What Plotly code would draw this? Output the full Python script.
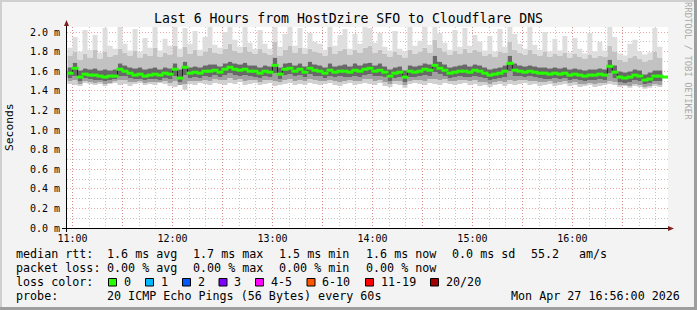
import pandas as pd
import plotly.graph_objects as go

# ---------------- data (ms) ----------------
start_time = "2026-04-27 10:57"
step_minutes = 3

median = [1.58,1.63,1.54,1.57,1.56,1.56,1.55,1.54,1.55,1.55,
          1.62,1.60,1.58,1.56,1.57,1.55,1.56,1.57,1.56,1.58,
          1.57,1.62,1.53,1.64,1.58,1.59,1.58,1.60,1.60,1.61,
          1.59,1.62,1.64,1.62,1.61,1.62,1.60,1.60,1.58,1.60,
          1.59,1.66,1.57,1.62,1.63,1.60,1.62,1.59,1.63,1.61,
          1.60,1.58,1.61,1.59,1.60,1.60,1.59,1.61,1.60,1.62,
          1.63,1.60,1.61,1.59,1.55,1.58,1.59,1.54,1.60,1.59,
          1.60,1.62,1.61,1.66,1.63,1.61,1.58,1.59,1.60,1.60,
          1.59,1.61,1.60,1.58,1.56,1.57,1.58,1.60,1.68,1.61,
          1.60,1.59,1.60,1.59,1.58,1.58,1.57,1.58,1.57,1.58,
          1.56,1.57,1.56,1.55,1.56,1.56,1.57,1.56,1.65,1.59,
          1.54,1.53,1.54,1.56,1.55,1.51,1.52,1.55,1.55,1.54]

ping_min = [1.47,1.46,1.45,1.48,1.47,1.46,1.47,1.45,1.47,1.48,
            1.46,1.47,1.45,1.47,1.48,1.46,1.47,1.46,1.48,1.47,
            1.45,1.44,1.46,1.41,1.47,1.46,1.48,1.47,1.46,1.48,
            1.47,1.46,1.48,1.47,1.49,1.46,1.47,1.48,1.46,1.47,
            1.48,1.45,1.46,1.47,1.48,1.46,1.47,1.46,1.48,1.47,
            1.46,1.47,1.48,1.46,1.45,1.47,1.48,1.46,1.47,1.48,
            1.47,1.46,1.48,1.45,1.44,1.47,1.46,1.43,1.47,1.48,
            1.47,1.46,1.48,1.47,1.46,1.48,1.47,1.46,1.47,1.48,
            1.46,1.47,1.45,1.46,1.44,1.46,1.47,1.45,1.47,1.46,
            1.47,1.48,1.46,1.47,1.45,1.46,1.47,1.45,1.46,1.47,
            1.45,1.46,1.44,1.45,1.46,1.44,1.45,1.46,1.47,1.46,
            1.44,1.45,1.43,1.45,1.44,1.42,1.43,1.45,1.44,1.46]

ping_lo2 = [1.50,1.51,1.47,1.50,1.49,1.48,1.49,1.47,1.48,1.50,
            1.51,1.51,1.49,1.49,1.50,1.48,1.49,1.49,1.49,1.50,
            1.48,1.50,1.46,1.47,1.50,1.50,1.50,1.51,1.50,1.52,
            1.51,1.51,1.53,1.51,1.52,1.50,1.51,1.51,1.49,1.51,
            1.51,1.50,1.49,1.51,1.52,1.50,1.51,1.50,1.52,1.51,
            1.50,1.50,1.51,1.50,1.49,1.50,1.51,1.50,1.50,1.52,
            1.52,1.50,1.51,1.49,1.47,1.50,1.50,1.46,1.50,1.51,
            1.51,1.50,1.52,1.52,1.51,1.52,1.50,1.50,1.51,1.51,
            1.50,1.51,1.49,1.49,1.47,1.49,1.50,1.49,1.51,1.50,
            1.51,1.51,1.50,1.50,1.49,1.49,1.50,1.48,1.49,1.50,
            1.48,1.49,1.47,1.47,1.48,1.47,1.48,1.48,1.50,1.49,
            1.46,1.46,1.45,1.47,1.46,1.44,1.45,1.47,1.46,1.47]

ping_lo1 = [1.53,1.55,1.50,1.53,1.52,1.51,1.51,1.50,1.51,1.52,
            1.55,1.55,1.53,1.52,1.52,1.51,1.52,1.52,1.51,1.53,
            1.52,1.55,1.49,1.56,1.53,1.54,1.53,1.55,1.54,1.56,
            1.54,1.56,1.58,1.56,1.55,1.56,1.55,1.54,1.53,1.55,
            1.54,1.58,1.52,1.56,1.57,1.55,1.56,1.54,1.57,1.55,
            1.55,1.53,1.55,1.54,1.55,1.54,1.54,1.55,1.54,1.56,
            1.57,1.55,1.55,1.54,1.50,1.53,1.54,1.49,1.54,1.54,
            1.55,1.56,1.55,1.59,1.57,1.55,1.53,1.54,1.55,1.54,
            1.54,1.55,1.54,1.53,1.51,1.52,1.53,1.54,1.60,1.55,
            1.55,1.54,1.55,1.54,1.53,1.52,1.52,1.53,1.52,1.53,
            1.51,1.52,1.51,1.50,1.51,1.51,1.52,1.51,1.58,1.53,
            1.49,1.48,1.49,1.51,1.50,1.47,1.48,1.50,1.50,1.49]

ping_hi1 = [1.64,1.69,1.61,1.63,1.62,1.63,1.61,1.62,1.61,1.62,
            1.68,1.66,1.64,1.63,1.64,1.62,1.63,1.64,1.62,1.64,
            1.63,1.68,1.62,1.70,1.64,1.65,1.64,1.66,1.67,1.67,
            1.65,1.68,1.70,1.68,1.67,1.69,1.66,1.66,1.64,1.66,
            1.65,1.74,1.64,1.68,1.69,1.66,1.68,1.65,1.70,1.67,
            1.66,1.64,1.68,1.65,1.66,1.67,1.65,1.68,1.66,1.68,
            1.69,1.66,1.68,1.65,1.62,1.64,1.65,1.61,1.66,1.65,
            1.66,1.68,1.67,1.76,1.70,1.67,1.64,1.65,1.66,1.67,
            1.65,1.67,1.66,1.64,1.62,1.63,1.64,1.66,1.76,1.68,
            1.66,1.65,1.66,1.65,1.64,1.64,1.63,1.64,1.63,1.64,
            1.62,1.63,1.62,1.61,1.62,1.62,1.63,1.62,1.72,1.66,
            1.60,1.59,1.60,1.62,1.61,1.57,1.59,1.61,1.61,1.60]

ping_hi2 = [1.76,1.80,1.72,1.78,1.74,1.82,1.73,1.80,1.75,1.77,
            1.83,1.79,1.76,1.81,1.74,1.78,1.76,1.84,1.75,1.79,
            1.77,1.86,1.75,1.85,1.78,1.82,1.76,1.80,1.84,1.79,
            1.78,1.83,1.88,1.81,1.79,1.85,1.80,1.78,1.83,1.79,
            1.77,1.90,1.76,1.82,1.86,1.79,1.84,1.78,1.83,1.80,
            1.79,1.76,1.85,1.78,1.81,1.83,1.77,1.82,1.79,1.84,
            1.86,1.79,1.82,1.78,1.75,1.80,1.77,1.74,1.82,1.78,
            1.80,1.84,1.79,1.92,1.84,1.80,1.77,1.81,1.78,1.83,
            1.79,1.82,1.80,1.76,1.78,1.75,1.80,1.79,1.90,1.82,
            1.79,1.77,1.82,1.78,1.76,1.80,1.75,1.78,1.76,1.79,
            1.74,1.78,1.75,1.73,1.77,1.74,1.76,1.75,1.86,1.80,
            1.72,1.70,1.74,1.76,1.73,1.70,1.72,1.80,1.74,1.72]

ping_max = [1.84,1.95,1.80,2.02,1.82,1.97,1.79,2.04,1.86,1.83,
            2.05,1.88,1.81,2.03,1.80,1.94,1.84,2.05,1.81,1.93,
            1.86,2.05,1.83,2.04,1.88,2.01,1.82,1.95,2.05,1.87,
            1.84,2.00,2.05,1.92,1.85,2.05,1.89,1.83,2.02,1.88,
            1.83,2.05,1.85,1.98,2.05,1.86,2.04,1.84,1.99,1.90,
            1.88,1.82,2.05,1.86,1.97,2.03,1.83,1.98,1.88,2.05,
            2.04,1.89,1.99,1.85,1.81,2.01,1.83,1.80,2.05,1.86,
            1.91,2.05,1.87,2.05,1.99,1.89,1.82,2.02,1.85,2.04,
            1.86,1.97,1.90,1.81,1.96,1.80,2.03,1.85,2.05,1.98,
            1.88,1.83,2.05,1.87,1.82,2.00,1.80,1.93,1.81,1.96,
            1.79,1.94,1.83,1.78,1.99,1.80,1.90,1.81,2.05,1.95,
            1.78,1.76,1.88,1.92,1.80,1.77,1.79,2.04,1.85,1.78]

x_tick_vals = ["2026-04-27 11:00", "2026-04-27 11:30", "2026-04-27 12:00", "2026-04-27 12:30",
               "2026-04-27 13:00", "2026-04-27 13:30", "2026-04-27 14:00", "2026-04-27 14:30",
               "2026-04-27 15:00", "2026-04-27 15:30", "2026-04-27 16:00", "2026-04-27 16:30"]
x_tick_text = ["11:00", "", "12:00", "", "13:00", "", "14:00", "", "15:00", "", "16:00", ""]

title_text = "Last 6 Hours from HostDzire SFO to Cloudflare DNS"
loss_labels = ["0", "1", "2", "3", "4-5", "6-10", "11-19", "20/20"]
loss_colors = ["#26ff00", "#00b8ff", "#0059ff", "#7e00ff", "#ff00ff", "#ff5500", "#ff0000", "#a10000"]

# ---------------- geometry ----------------
W, H = 697, 310
L, R, T, B = 67, 29, 27, 82
PW, PH = W - L - R, H - T - B
FONT = "DejaVu Sans Mono"


def fx(px):
    return (px - L) / PW


def fy(py):
    return (H - B - py) / PH


times = pd.date_range(start_time, periods=len(median), freq=f"{step_minutes}min")
mid_times = times + pd.Timedelta(seconds=step_minutes * 30)

fig = go.Figure()

layers = [
    (ping_min, None),
    (ping_lo2, "#d0d0d0"),
    (ping_lo1, "#a0a0a0"),
    (ping_hi1, "#686868"),
    (ping_hi2, "#c2c2c2"),
    (ping_max, "#dedede"),
]
for vals, col in layers:
    fig.add_trace(go.Scatter(
        x=times, y=vals, mode="lines", line=dict(width=0, shape="hv"),
        fill=None if col is None else "tonexty", fillcolor=col,
        hoverinfo="skip", showlegend=False))

fig.add_trace(go.Scatter(
    x=times, y=median, mode="lines", line=dict(width=1, color="#202020", shape="hv"),
    hoverinfo="skip", showlegend=False))
fig.add_trace(go.Scatter(
    x=mid_times, y=median, mode="markers",
    marker=dict(symbol="line-ew", size=5, line=dict(width=3, color=loss_colors[0])),
    hoverinfo="skip", showlegend=False))

grid_major = "rgba(222,80,80,0.5)"
grid_minor = "rgba(143,143,143,0.5)"

fig.update_layout(
    width=W, height=H,
    margin=dict(l=L, r=R, t=T, b=B, pad=0),
    paper_bgcolor="#f3f3f3", plot_bgcolor="#ffffff",
    font=dict(family=FONT, size=10, color="#000000"),
    xaxis=dict(
        type="date",
        range=["2026-04-27 10:56:40", "2026-04-27 16:57:24"],
        tickmode="array", tickvals=x_tick_vals, ticktext=x_tick_text,
        showgrid=True, gridcolor=grid_major, griddash="1px,2px", gridwidth=1,
        minor=dict(tickmode="linear", tick0="2026-04-27 11:00", dtick=600000,
                   showgrid=True, gridcolor=grid_minor, griddash="1px,2px", gridwidth=1),
        ticks="", ticklabelstandoff=3, zeroline=False, showline=False,
        tickfont=dict(family=FONT, size=10),
    ),
    yaxis=dict(
        range=[0, 2.051],
        tickmode="linear", tick0=0, dtick=0.2, tickformat=".1f", ticksuffix=" m",
        showgrid=True, gridcolor=grid_major, griddash="1px,2px", gridwidth=1,
        minor=dict(tickmode="linear", tick0=0, dtick=0.1,
                   showgrid=True, gridcolor=grid_minor, griddash="1px,2px", gridwidth=1),
        ticks="", ticklabelstandoff=6, zeroline=False, showline=False,
        tickfont=dict(family=FONT, size=10),
    ),
)

shapes = []
# frame shading
shapes.append(dict(type="line", xref="paper", yref="paper", x0=fx(0), x1=fx(W), y0=fy(1), y1=fy(1),
                   line=dict(color="#cfcfcf", width=2)))
shapes.append(dict(type="line", xref="paper", yref="paper", x0=fx(1), x1=fx(1), y0=fy(0), y1=fy(H),
                   line=dict(color="#cfcfcf", width=2)))
shapes.append(dict(type="line", xref="paper", yref="paper", x0=fx(0), x1=fx(W), y0=fy(H - 1.5), y1=fy(H - 1.5),
                   line=dict(color="#9e9e9e", width=3)))
shapes.append(dict(type="line", xref="paper", yref="paper", x0=fx(W - 1.5), x1=fx(W - 1.5), y0=fy(0), y1=fy(H),
                   line=dict(color="#9e9e9e", width=3)))
# axes
shapes.append(dict(type="line", xref="paper", yref="paper", x0=fx(66.5), x1=fx(66.5), y0=fy(232), y1=fy(24),
                   line=dict(color="#000000", width=1)))
shapes.append(dict(type="line", xref="paper", yref="paper", x0=fx(62), x1=fx(670), y0=fy(228.5), y1=fy(228.5),
                   line=dict(color="#000000", width=1)))
shapes.append(dict(type="path", xref="paper", yref="paper",
                   path=f"M {fx(66.5)},{fy(20)} L {fx(64)},{fy(26)} L {fx(69)},{fy(26)} Z",
                   fillcolor="#7f1f1f", line=dict(width=0)))
shapes.append(dict(type="path", xref="paper", yref="paper",
                   path=f"M {fx(674)},{fy(228.5)} L {fx(668)},{fy(226)} L {fx(668)},{fy(231)} Z",
                   fillcolor="#7f1f1f", line=dict(width=0)))

annotations = []


def txt(x, y, s, size=11.7, color="#000000", xanchor="left", angle=0):
    annotations.append(dict(xref="paper", yref="paper", x=fx(x), y=fy(y), text=s, showarrow=False,
                            xanchor=xanchor, yanchor="middle", textangle=angle,
                            font=dict(family=FONT, size=size, color=color)))


txt(348, 19, title_text, size=13.2, xanchor="center")
txt(10, 127, "Seconds", size=11.3, xanchor="center", angle=-90)
txt(688, 61, "RRDTOOL / TOBI OETIKER", size=8.9, color="#a8a8a8", xanchor="center", angle=90)

row_y = [254, 268, 282, 296]
X0 = 14
# row 1
for x, s in [(X0, "median rtt:"), (105.3, "1.6 ms avg"), (191.3, "1.7 ms max"), (277.3, "1.5 ms min"),
             (364, "1.6 ms now"), (449.7, "0.0 ms sd"), (528.7, "55.2"), (577.3, "am/s")]:
    txt(x, row_y[0], s)
# row 2
for x, s in [(X0, "packet loss:"), (105.3, "0.00 % avg"), (191.3, "0.00 % max"), (277.3, "0.00 % min"),
             (364, "0.00 % now")]:
    txt(x, row_y[1], s)
# row 3
txt(X0, row_y[2], "loss color:")
box_x = [109, 146, 183, 219.5, 256, 307.5, 366, 431]
for bx, lab, col in zip(box_x, loss_labels, loss_colors):
    shapes.append(dict(type="rect", xref="paper", yref="paper",
                       x0=fx(bx - 0.5), x1=fx(bx + 7.5), y0=fy(278.5), y1=fy(286),
                       fillcolor=col, line=dict(color="#000000", width=1)))
    txt(bx + 12.5, row_y[2], lab)
# row 4
txt(X0, row_y[3], "probe:")
txt(105.3, row_y[3], "20 ICMP Echo Pings (56 Bytes) every 60s")
txt(682, row_y[3], "Mon Apr 27 16:56:00 2026", xanchor="right")

fig.update_layout(shapes=shapes, annotations=annotations)

fig.write_html("out.html", config={"displayModeBar": False})
